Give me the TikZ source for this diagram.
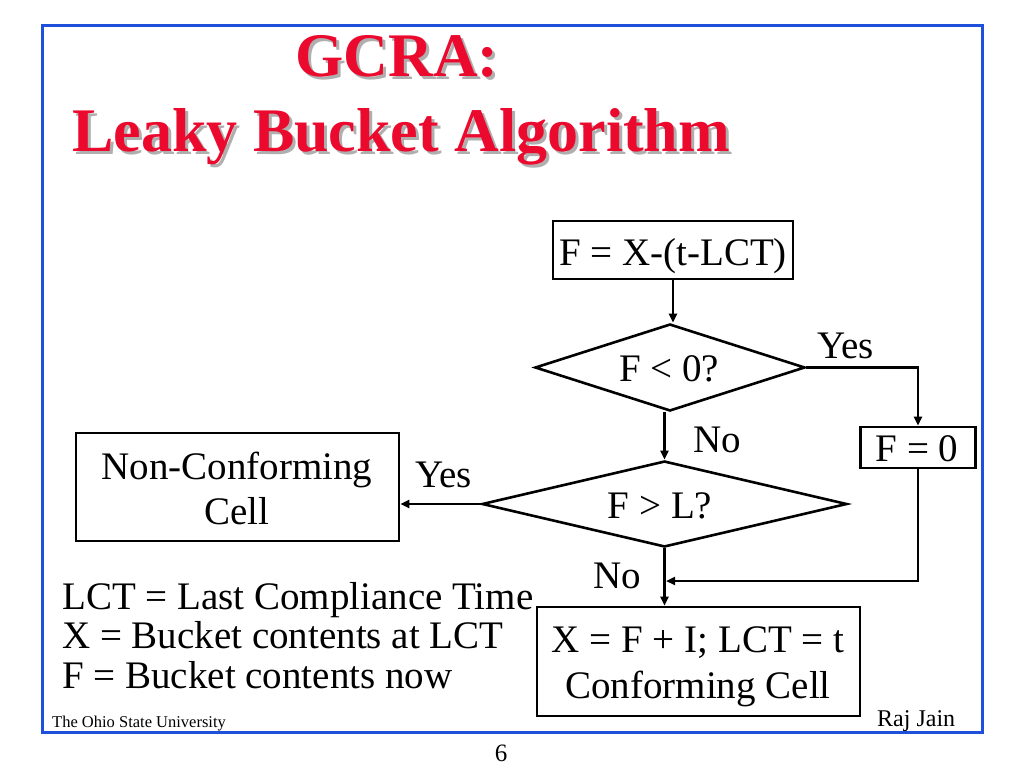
\documentclass[tikz,border=0pt]{standalone}
\usepackage{fontspec}
\setmainfont{Liberation Serif}
\usetikzlibrary{shapes.geometric,arrows.meta}
\definecolor{frameblue}{RGB}{30,80,220}
\definecolor{titlered}{RGB}{235,10,45}
\definecolor{shadowgray}{RGB}{175,175,175}
\begin{document}
\begin{tikzpicture}[x=1pt,y=-1pt,
  box/.style={draw, rectangle, line width=2.6pt, inner sep=0pt},
  decision/.style={draw, diamond, aspect=3, line width=2.6pt, inner sep=0pt},
  arr/.style={line width=2.6pt, -{Triangle[length=9pt,width=8pt]}},
  txt/.style={inner sep=0pt, font=\fontsize{39}{45}\selectfont},
  titletxt/.style={inner sep=0pt, font=\fontsize{62}{70}\selectfont\bfseries},
  small/.style={inner sep=0pt, font=\fontsize{16.5}{18}\selectfont}]
\useasboundingbox (0,0) rectangle (1024,768);
\fill[white] (0,0) rectangle (1024,768);
% frame
\draw[frameblue, line width=3pt] (42,26) rectangle (982,732);
% title with shadow
\node[titletxt, text=shadowgray, anchor=base] (t1s) at (400,79) {GCRA:};
\node[titletxt, text=titlered, anchor=base] (t1) at (397,76) {GCRA:};
\node[titletxt, text=shadowgray, anchor=base west] (t2s) at (75,154) {Leaky Bucket Algorithm};
\node[titletxt, text=titlered, anchor=base west] (t2) at (72,151) {Leaky Bucket Algorithm};
% shapes
\node[box, minimum width=240pt, minimum height=58pt] (b1) at (673,250) {};
\node[txt, anchor=base] (b1t) at (673,265) {F = X-(t-LCT)};
\node[decision, minimum width=270pt, minimum height=87pt] (d1) at (670,367.5) {};
\node[txt, anchor=base] (d1t) at (669,381) {F < 0?};
\node[decision, minimum width=365pt, minimum height=86pt] (d2) at (664.5,504) {};
\node[txt, anchor=base] (d2t) at (660,518) {F > L?};
\node[box, minimum width=115pt, minimum height=41pt] (b0) at (918,447.5) {};
\node[txt, anchor=base] (b0t) at (917,461) {F = 0};
\node[box, minimum width=323pt, minimum height=108pt] (nc) at (237.5,487) {};
\node[txt, anchor=base] (nc1) at (237,479) {Non-Conforming};
\node[txt, anchor=base] (nc2) at (237,524) {Cell};
\node[box, minimum width=323pt, minimum height=109pt] (b3) at (698.5,661.5) {};
\node[txt, anchor=base] (b31) at (698,652) {X = F + I; LCT = t};
\node[txt, anchor=base] (b32) at (698,698) {Conforming Cell};
% connectors
\coordinate (jn) at (666,581);
\draw[arr] (b1.south) -- (b1.south |- d1.north);
\draw[arr] (d1.east) -| (b0.north);
\draw[arr] (d1.south -| d2.north) -- (d2.north);
\draw[arr] (d2.west) -- (nc.east |- d2.west);
\draw[arr] (d2.south) -- (d2.south |- b3.north);
\draw[arr] (b0.south) |- (jn);
% labels
\node[txt, anchor=base west] (y1) at (817,358) {Yes};
\node[txt, anchor=base west] (n1) at (693,452) {No};
\node[txt, anchor=base west] (y2) at (415,487) {Yes};
\node[txt, anchor=base west] (n2) at (593,588) {No};
% legend
\node[txt, anchor=base west] (l1) at (62,609) {LCT = Last Compliance Time};
\node[txt, anchor=base west] (l2) at (62,648) {X = Bucket contents at LCT};
\node[txt, anchor=base west] (l3) at (62,688) {F = Bucket contents now};
% footer
\node[small, anchor=base west] (osu) at (52,727) {The Ohio State University};
\node[inner sep=0pt, font=\fontsize{24}{26}\selectfont, anchor=base west] (raj) at (877,726) {Raj Jain};
\node[inner sep=0pt, font=\fontsize{25}{27}\selectfont, anchor=base] (pg) at (501,761) {6};
\end{tikzpicture}
\end{document}
